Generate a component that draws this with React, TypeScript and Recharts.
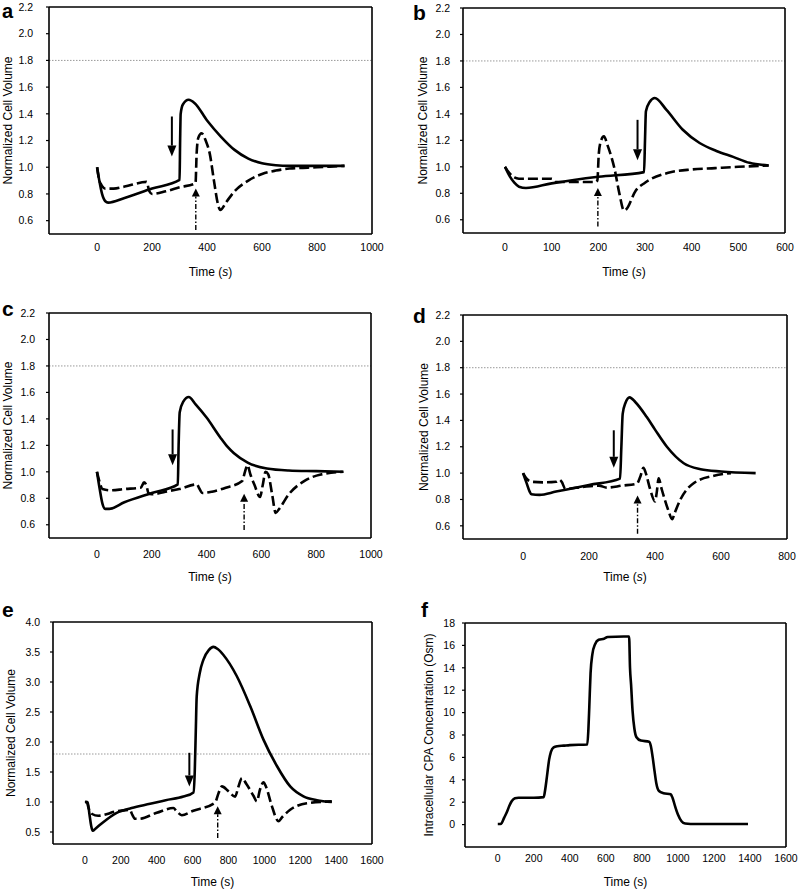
import React from 'react';
import { LineChart, Line, XAxis, YAxis, ReferenceLine } from 'recharts';

const FONT = '"Liberation Sans", Arial, Helvetica, sans-serif';

type Pt = [number, number];

// ---- panel a ----
const aSolid: Pt[] = [[0, 1.0], [8, 0.9], [18, 0.8], [30, 0.745], [40, 0.735], [100, 0.77], [200, 0.84], [300, 0.905], [302, 1.2], [304, 1.4], [312, 1.47], [333, 1.505], [355, 1.48], [400, 1.35], [450, 1.23], [500, 1.13], [550, 1.065], [600, 1.03], [650, 1.015], [700, 1.01], [900, 1.01]];
const aDashed: Pt[] = [[0, 1.0], [8, 0.9], [15, 0.87], [30, 0.84], [60, 0.84], [100, 0.855], [180, 0.89], [190, 0.82], [200, 0.8], [250, 0.82], [300, 0.85], [358, 0.88], [362, 1.1], [368, 1.22], [380, 1.255], [395, 1.2], [410, 1.1], [425, 0.9], [440, 0.72], [448, 0.68], [470, 0.74], [500, 0.82], [550, 0.9], [600, 0.95], [650, 0.975], [700, 0.99], [800, 1.0], [900, 1.01]];
const aArrowDown = { t: 272, from: 1.38, to: 1.08 };
const aArrowUp = { t: 359, from: 0.53, to: 0.84 };

// ---- panel b ----
const bSolid: Pt[] = [[0, 1.0], [10, 0.93], [20, 0.88], [30, 0.85], [45, 0.84], [100, 0.875], [200, 0.925], [298, 0.96], [300, 1.2], [302, 1.42], [310, 1.49], [321, 1.52], [346, 1.43], [381, 1.28], [417, 1.18], [453, 1.12], [489, 1.075], [524, 1.03], [565, 1.01]];
const bDashed: Pt[] = [[0, 1.0], [10, 0.95], [20, 0.92], [30, 0.91], [100, 0.91], [110, 0.885], [195, 0.885], [198, 0.9], [201, 1.1], [206, 1.2], [212, 1.23], [220, 1.16], [235, 0.98], [245, 0.8], [255, 0.67], [260, 0.68], [280, 0.82], [300, 0.88], [350, 0.955], [400, 0.98], [450, 0.99], [500, 1.0], [565, 1.01]];
const bArrowDown = { t: 284, from: 1.355, to: 1.05 };
const bArrowUp = { t: 199, from: 0.55, to: 0.84 };

// ---- panel c ----
const cSolid: Pt[] = [[0, 1.0], [10, 0.87], [20, 0.76], [30, 0.72], [45, 0.72], [100, 0.77], [200, 0.84], [295, 0.905], [298, 1.2], [302, 1.45], [315, 1.53], [335, 1.565], [360, 1.51], [400, 1.41], [450, 1.26], [476, 1.19], [500, 1.14], [550, 1.07], [620, 1.025], [700, 1.01], [800, 1.005], [897, 1.0]];
const cDashed: Pt[] = [[0, 1.0], [10, 0.92], [20, 0.87], [50, 0.86], [100, 0.87], [160, 0.88], [172, 0.92], [180, 0.9], [188, 0.84], [200, 0.83], [250, 0.85], [300, 0.87], [365, 0.905], [372, 0.88], [385, 0.84], [420, 0.85], [470, 0.88], [530, 0.93], [540, 1.0], [549, 1.05], [560, 0.98], [575, 0.9], [595, 0.81], [605, 0.9], [615, 1.0], [625, 0.98], [640, 0.82], [652, 0.69], [665, 0.72], [700, 0.83], [756, 0.93], [817, 0.98], [900, 1.0]];
const cArrowDown = { t: 276, from: 1.32, to: 1.05 };
const cArrowUp = { t: 537, from: 0.56, to: 0.835 };

// ---- panel d ----
const dSolid: Pt[] = [[0, 1.0], [10, 0.93], [20, 0.86], [25, 0.84], [50, 0.835], [100, 0.86], [200, 0.91], [294, 0.958], [298, 1.2], [302, 1.45], [310, 1.53], [323, 1.575], [340, 1.54], [375, 1.425], [400, 1.33], [436, 1.2], [487, 1.075], [538, 1.03], [600, 1.012], [705, 1.0]];
const dDashed: Pt[] = [[0, 1.0], [10, 0.96], [25, 0.935], [60, 0.93], [100, 0.935], [110, 0.95], [118, 0.93], [128, 0.88], [180, 0.895], [230, 0.905], [254, 0.89], [300, 0.905], [345, 0.92], [355, 0.97], [365, 1.04], [372, 1.0], [385, 0.88], [400, 0.785], [405, 0.85], [411, 0.96], [420, 0.88], [440, 0.72], [452, 0.65], [460, 0.7], [477, 0.8], [518, 0.925], [579, 0.98], [630, 1.0]];
const dArrowDown = { t: 275, from: 1.325, to: 1.04 };
const dArrowUp = { t: 347, from: 0.54, to: 0.83 };

// ---- panel e ----
const eSolid: Pt[] = [[0, 1.0], [15, 1.0], [25, 0.8], [35, 0.6], [43, 0.52], [60, 0.56], [100, 0.66], [177, 0.82], [260, 0.9], [363, 0.97], [450, 1.03], [549, 1.09], [605, 1.16], [612, 1.5], [618, 2.2], [623, 2.76], [640, 3.15], [660, 3.37], [690, 3.53], [716, 3.585], [740, 3.55], [772, 3.45], [846, 3.1], [921, 2.6], [995, 2.04], [1070, 1.6], [1144, 1.26], [1218, 1.095], [1293, 1.03], [1376, 1.0]];
const eDashed: Pt[] = [[0, 1.0], [10, 1.0], [20, 0.9], [40, 0.8], [74, 0.77], [177, 0.845], [251, 0.87], [262, 0.8], [280, 0.72], [300, 0.72], [400, 0.82], [493, 0.9], [510, 0.85], [540, 0.78], [600, 0.85], [725, 0.99], [745, 1.15], [763, 1.26], [800, 1.18], [837, 1.09], [855, 1.25], [875, 1.4], [900, 1.3], [940, 1.1], [958, 1.01], [975, 1.2], [995, 1.33], [1010, 1.25], [1040, 0.95], [1079, 0.68], [1100, 0.75], [1144, 0.87], [1237, 0.98], [1376, 1.01]];
const eArrowDown = { t: 582, from: 1.82, to: 1.26 };
const eArrowUp = { t: 740, from: 0.4, to: 0.93 };

// ---- panel f ----
const fConc: Pt[] = [[0, 0.05], [15, 0.05], [22, 0.15], [35, 0.6], [50, 1.1], [65, 1.7], [78, 2.1], [95, 2.35], [115, 2.4], [200, 2.4], [255, 2.45], [262, 3.0], [273, 4.3], [285, 5.8], [295, 6.5], [310, 6.9], [330, 7.0], [366, 7.05], [400, 7.1], [497, 7.15], [503, 8.5], [508, 10.5], [515, 13.5], [525, 15.2], [540, 16.1], [560, 16.5], [590, 16.6], [610, 16.75], [700, 16.8], [729, 16.8], [734, 14], [740, 12.5], [748, 10.2], [758, 8.6], [770, 7.8], [794, 7.5], [840, 7.4], [850, 7.0], [860, 6.0], [870, 4.8], [880, 3.7], [895, 3.0], [920, 2.8], [960, 2.7], [970, 2.4], [985, 1.6], [1000, 0.9], [1020, 0.3], [1040, 0.1], [1100, 0.05], [1389, 0.05]];

const volTicks = [0.6, 0.8, 1.0, 1.2, 1.4, 1.6, 1.8, 2.0, 2.2];
const volTicksE = [0.5, 1.0, 1.5, 2.0, 2.5, 3.0, 3.5, 4.0];
const concTicks = [0, 2, 4, 6, 8, 10, 12, 14, 16, 18];
const ticks1000 = [0, 200, 400, 600, 800, 1000];
const ticks600 = [0, 100, 200, 300, 400, 500, 600];
const ticks800 = [0, 200, 400, 600, 800];
const ticks1600 = [0, 200, 400, 600, 800, 1000, 1200, 1400, 1600];

const toRows = (pts: Pt[]) => pts.map(([t, v]) => ({ t, v }));

const arrowShape = (kind: 'solid' | 'dashdot') => (p: any) => {
  const { x1, y1, x2, y2 } = p;
  const dir = Math.sign(y2 - y1) || 1;
  const len = kind === 'solid' ? 11 : 8;
  const half = kind === 'solid' ? 4.5 : 4;
  const yb = y2 - dir * len;
  return (
    <g>
      <line x1={x1} y1={y1} x2={x2} y2={yb} stroke="#000" strokeWidth={kind === 'solid' ? 2 : 1.4}
        strokeDasharray={kind === 'solid' ? undefined : '5 2 1.5 2'} />
      <polygon points={`${x2},${y2} ${x2 - half},${yb} ${x2 + half},${yb}`} fill="#000" />
    </g>
  );
};

interface PanelProps {
  ox: number; oy: number;
  box: { x0: number; x1: number; y0: number; y1: number };
  xDomain: [number, number]; xTicks: number[];
  yDomain: [number, number]; yTicks: number[]; yFmt: (v: number) => string;
  yLabel: string; yLabelX: number; yGap: number; xGap: number; xLabelOff: number;
  italicS: boolean;
  solid: Pt[]; dashed?: Pt[];
  down?: { t: number; from: number; to: number }; up?: { t: number; from: number; to: number };
  refY?: number;
}

const Panel: React.FC<PanelProps> = (p) => {
  const W = 400, H = 310, xh = 40, pad = 10;
  const top = p.oy - pad;
  const yw = p.box.x0 - p.ox;
  const margin = { top: p.box.y0 - top, left: 0, right: p.ox + W - p.box.x1, bottom: H - (p.box.y1 - top) - xh };
  const tickStyle = { fill: '#000', fontSize: 10.5, fontFamily: FONT };
  const [x0, x1] = p.xDomain;
  const [y0, y1] = p.yDomain;
  return (
    <div style={{ position: 'absolute', left: p.ox, top }}>
      <LineChart width={W} height={H} margin={margin}>
        <XAxis type="number" dataKey="t" domain={p.xDomain} ticks={p.xTicks} allowDataOverflow
          axisLine={false} tickLine={false} tickSize={0} tickMargin={p.xGap} height={xh} tick={tickStyle}
          label={{
            content: (lp: any) => {
              const vb = lp.viewBox;
              return (
                <text x={vb.x + vb.width / 2} y={vb.y + p.xLabelOff} textAnchor="middle" fontSize={12} fontFamily={FONT} fill="#000">
                  Time (<tspan fontStyle={p.italicS ? 'italic' : 'normal'}>s</tspan>)
                </text>
              );
            },
          }} />
        <YAxis type="number" domain={p.yDomain} ticks={p.yTicks} allowDataOverflow interval={0}
          axisLine={false} tickLine={{ stroke: '#000', strokeWidth: 1.2 }} stroke="#000" tickSize={3}
          tickMargin={p.yGap - 3} width={yw} tick={tickStyle} tickFormatter={p.yFmt}
          label={{
            content: (lp: any) => {
              const vb = lp.viewBox;
              const cy = vb.y + vb.height / 2;
              return (
                <text x={p.yLabelX} y={cy} transform={`rotate(-90, ${p.yLabelX}, ${cy})`} textAnchor="middle"
                  dominantBaseline="central" fontSize={12} fontFamily={FONT} fill="#000">{p.yLabel}</text>
              );
            },
          }} />
        {p.refY !== undefined && <ReferenceLine y={p.refY} stroke="#999" strokeWidth={1} strokeDasharray="1.5 1.5" />}
        {p.dashed && (
          <Line data={toRows(p.dashed)} dataKey="v" type="monotone" stroke="#000" strokeWidth={2.6}
            strokeDasharray="10 4" dot={false} isAnimationActive={false} />
        )}
        <Line data={toRows(p.solid)} dataKey="v" type="monotone" stroke="#000" strokeWidth={2.6}
          dot={false} isAnimationActive={false} />
        {p.down && (
          <ReferenceLine segment={[{ x: p.down.t, y: p.down.from }, { x: p.down.t, y: p.down.to }]} shape={arrowShape('solid')} />
        )}
        {p.up && (
          <ReferenceLine segment={[{ x: p.up.t, y: p.up.from }, { x: p.up.t, y: p.up.to }]} shape={arrowShape('dashdot')} />
        )}
        {/* plot frame */}
        <ReferenceLine x={x0} stroke="#000" strokeWidth={1.6} ifOverflow="visible" />
        <ReferenceLine x={x1} stroke="#000" strokeWidth={1.6} ifOverflow="visible" />
        <ReferenceLine y={y0} stroke="#000" strokeWidth={1.6} ifOverflow="visible" />
        <ReferenceLine y={y1} stroke="#000" strokeWidth={1.6} ifOverflow="visible" />
      </LineChart>
    </div>
  );
};

const f1 = (v: number) => v.toFixed(1);
const f0 = (v: number) => String(v);
const VOL = 'Normalized Cell Volume';

export default function App() {
  return (
    <div style={{ position: 'absolute', left: 0, top: 0, width: 800, height: 894, background: '#fff', overflow: 'hidden' }}>
      <Panel ox={0} oy={0} box={{ x0: 49, x1: 372, y0: 7, y1: 234 }} xDomain={[-175, 1000]} xTicks={ticks1000}
        yDomain={[0.5, 2.2]} yTicks={volTicks} yFmt={f1} yLabel={VOL} yLabelX={8} yGap={16} xGap={10} xLabelOff={42}
        italicS solid={aSolid} dashed={aDashed} down={aArrowDown} up={aArrowUp} refY={1.8} />
      <Panel ox={400} oy={0} box={{ x0: 463, x1: 785, y0: 8, y1: 233 }} xDomain={[-90, 600]} xTicks={ticks600}
        yDomain={[0.5, 2.2]} yTicks={volTicks} yFmt={f1} yLabel={VOL} yLabelX={23} yGap={13} xGap={11} xLabelOff={43}
        italicS solid={bSolid} dashed={bDashed} down={bArrowDown} up={bArrowUp} refY={1.8} />
      <Panel ox={0} oy={300} box={{ x0: 49, x1: 371, y0: 313, y1: 538 }} xDomain={[-175, 1000]} xTicks={ticks1000}
        yDomain={[0.5, 2.2]} yTicks={volTicks} yFmt={f1} yLabel={VOL} yLabelX={8} yGap={14} xGap={13} xLabelOff={43}
        italicS solid={cSolid} dashed={cDashed} down={cArrowDown} up={cArrowUp} refY={1.8} />
      <Panel ox={400} oy={300} box={{ x0: 463, x1: 787, y0: 315, y1: 539 }} xDomain={[-182, 800]} xTicks={ticks800}
        yDomain={[0.5, 2.2]} yTicks={volTicks} yFmt={f1} yLabel={VOL} yLabelX={24} yGap={13} xGap={14} xLabelOff={42}
        italicS solid={dSolid} dashed={dDashed} down={dArrowDown} up={dArrowUp} refY={1.8} />
      <Panel ox={0} oy={594} box={{ x0: 53, x1: 372, y0: 622, y1: 844 }} xDomain={[-178, 1600]} xTicks={ticks1600}
        yDomain={[0.3, 4.0]} yTicks={volTicksE} yFmt={f1} yLabel={VOL} yLabelX={11} yGap={13} xGap={13} xLabelOff={42}
        italicS={false} solid={eSolid} dashed={eDashed} down={eArrowDown} up={eArrowUp} refY={1.8} />
      <Panel ox={400} oy={594} box={{ x0: 465, x1: 786, y0: 623, y1: 847 }} xDomain={[-182, 1600]} xTicks={ticks1600}
        yDomain={[-2, 18]} yTicks={concTicks} yFmt={f0} yLabel="Intracellular CPA Concentration (Osm)" yLabelX={29}
        yGap={10} xGap={8} xLabelOff={39} italicS={false} solid={fConc} />
      <svg width={800} height={894} style={{ position: 'absolute', left: 0, top: 0, pointerEvents: 'none' }}>
        <g fontFamily={FONT} fontWeight="bold" fontSize={21} fill="#000">
          <text x={2} y={18} fontSize={20}>a</text>
          <text x={413} y={20}>b</text>
          <text x={2} y={316}>c</text>
          <text x={413} y={323}>d</text>
          <text x={2} y={617}>e</text>
          <text x={421} y={617}>f</text>
        </g>
      </svg>
    </div>
  );
}
